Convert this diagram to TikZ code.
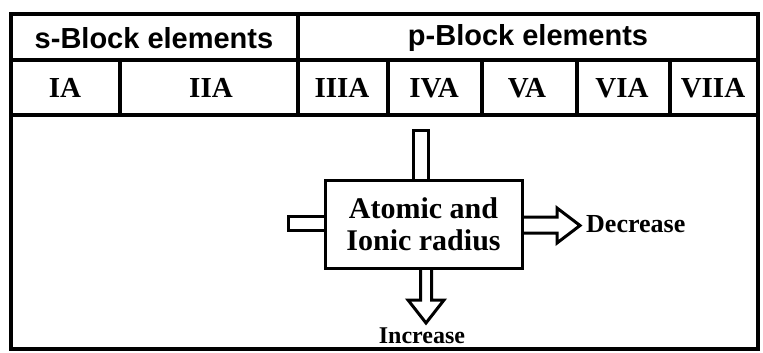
\documentclass[tikz,border=0pt]{standalone}
\usepackage{fontspec}
\setmainfont{Liberation Serif}
\newfontfamily\hdrfont{Liberation Sans}
\begin{document}
\begin{tikzpicture}[x=1pt,y=-1pt, line join=miter,
  frame/.style={line width=3.5pt},
  grp/.style={font=\hdrfont\bfseries\fontsize{29}{30}\selectfont, inner sep=0pt},
  col/.style={font=\bfseries\fontsize{29}{30}\selectfont, inner sep=0pt},
  lbl/.style={font=\bfseries\fontsize{26}{28}\selectfont, inner sep=0pt},
  blockarrow/.style={line width=3pt}]
\useasboundingbox (0,0) rectangle (763,353);
% table frame
\draw[frame] (11,14) rectangle (758,349);
\draw[frame] (11,60) -- (758,60);
\draw[frame] (11,115) -- (758,115);
\draw[frame] (298,14) -- (298,115);
\foreach \x in {120,388,482,577,670} \draw[frame] (\x,60) -- (\x,115);
% headers
\node[grp] (sblk) at (154,38) {s-Block elements};
\node[grp] (pblk) at (528,38) {p-Block elements};
\node[col] (g1) at (65,88) {IA};
\node[col] (g2) at (211,88) {IIA};
\node[col] (g3) at (342,88) {IIIA};
\node[col] (g4) at (434,88) {IVA};
\node[col] (g5) at (527,88) {VA};
\node[col] (g6) at (622,88) {VIA};
\node[col] (g7) at (713,88) {VIIA};
% central box
\node[draw, line width=3pt, minimum width=197pt, minimum height=88pt, inner sep=0pt,
  align=center, font=\bfseries\fontsize{30}{32}\selectfont] (box) at (423.5,224)
  {Atomic and\\Ionic radius};
% stems and block arrows
\draw[blockarrow] (box.north -| 413,0) -- (413,130) -- (428,130) -- (box.north -| 428,0);
\draw[blockarrow] (box.west |- 0,216) -- (288,216) -- (288,230) -- (box.west |- 0,230);
\draw[blockarrow] (box.south -| 420.5,0) -- (420.5,300) -- (408,300) -- (426,323)
  -- (444,300) -- (431.5,300) -- (box.south -| 431.5,0);
\draw[blockarrow] (box.east |- 0,217) -- (557,217) -- (557,208) -- (580,225.5)
  -- (557,243) -- (557,233) -- (box.east |- 0,233);
\node[lbl, anchor=west] (dec) at (586,224) {Decrease};
\node[font=\bfseries\fontsize{24}{26}\selectfont, inner sep=0pt] (inc) at (422,336) {Increase};
\end{tikzpicture}
\end{document}
